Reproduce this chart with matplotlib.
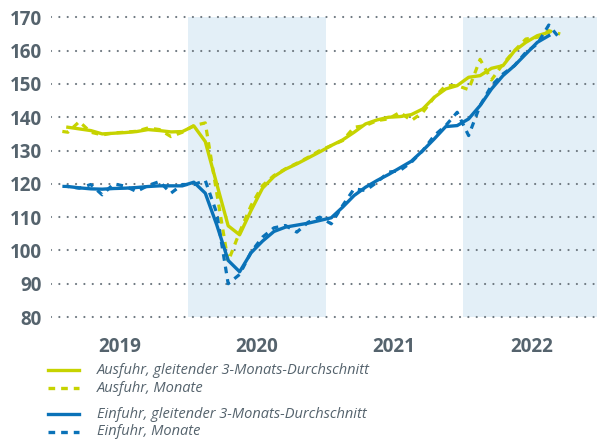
import numpy as np
import matplotlib
matplotlib.use("Agg")
import matplotlib.pyplot as plt
from matplotlib.lines import Line2D

# ---------------- data ----------------
years = ["2019", "2020", "2021", "2022"]
# monthly values Jan 2019 .. Sep 2022
ausfuhr_monate = [136.0, 135.5, 138.7, 135.5, 134.7, 135.3, 135.5, 135.8, 136.8, 136.3, 134.2, 135.5,
                  137.5, 138.3, 117.3, 96.7, 105.5, 113.5, 119.5, 122.5, 124.5, 126.2, 128.0, 130.0,
                  131.5, 133.0, 137.0, 137.5, 139.0, 139.5, 141.5, 139.0, 141.5, 146.0, 149.5, 149.5,
                  148.3, 157.4, 151.2, 156.0, 160.0, 163.5, 164.0, 166.0, 165.0]
einfuhr_monate = [119.3, 119.2, 118.7, 119.8, 116.7, 120.0, 119.3, 117.7, 119.5, 120.7, 117.2, 119.8,
                  119.8, 121.0, 111.2, 90.0, 92.8, 99.5, 104.0, 106.8, 107.5, 105.5, 108.5, 110.0,
                  108.0, 113.5, 118.5, 118.0, 120.5, 123.5, 124.0, 126.5, 130.0, 134.5, 137.5, 141.5,
                  134.5, 143.5, 149.5, 153.0, 155.5, 159.5, 162.0, 167.7, 163.5]
# centred 3-month averages Feb 2019 .. Aug 2022
ausfuhr_3m = [137.0, 136.5, 136.0, 135.0, 135.2, 135.4, 135.7, 136.3, 136.0, 135.6, 135.7,
              137.4, 132.7, 120.0, 107.4, 104.7, 112.0, 118.7, 122.2, 124.4, 126.0, 127.8, 129.6,
              131.5, 133.2, 135.5, 138.0, 139.2, 140.0, 140.2, 140.8, 142.5, 146.0, 148.5, 149.5,
              152.0, 152.5, 154.7, 155.5, 159.9, 162.5, 164.5, 165.5]
einfuhr_3m = [119.2, 118.8, 118.5, 118.4, 118.6, 118.7, 118.9, 119.2, 119.4, 119.4, 119.4,
              120.5, 117.2, 107.7, 97.0, 93.6, 99.3, 102.8, 105.7, 107.0, 107.6, 108.2, 109.0,
              109.8, 113.0, 116.5, 119.0, 121.0, 122.8, 124.8, 126.8, 130.0, 133.5, 137.2, 137.5,
              139.5, 143.5, 148.5, 152.5, 155.5, 159.0, 162.5, 164.5]
y_ticks = [80, 90, 100, 110, 120, 130, 140, 150, 160, 170]
legend_labels = ["Ausfuhr, gleitender 3-Monats-Durchschnitt", "Ausfuhr, Monate",
                 "Einfuhr, gleitender 3-Monats-Durchschnitt", "Einfuhr, Monate"]

# ---------------- style ----------------
plt.rcParams['font.family'] = ['Open Sans', 'DejaVu Sans']
plt.rcParams['lines.scale_dashes'] = False
YEL = '#c6d300'
BLU = '#0a72b8'
SHADE = '#e3eff7'
TXT = '#55636d'
GRID = '#6e7880'

W, H = 597, 441
fig = plt.figure(figsize=(W / 100, H / 100), dpi=100)
x0_px, x1_px = 50.7, 597
y_top_px, y_bot_px = 10.7, 323.7
ax = fig.add_axes([x0_px / W, 1 - y_bot_px / H, (x1_px - x0_px) / W, (y_bot_px - y_top_px) / H])
month_px = 11.45
ax.set_xlim(0, (x1_px - x0_px) / month_px)
ax.set_ylim(78, 172)

# shading 2020 and 2022
for yi in (1, 3):
    ax.fill_between([12 * yi, 12 * yi + 12], 80, 170, color=SHADE, lw=0, zorder=0)

# dotted grid
for v in y_ticks:
    ax.axhline(v, color=GRID, lw=1.6, linestyle=(0, (0.01, 6.0)), dash_capstyle='round', zorder=1)

t_m = np.arange(len(ausfuhr_monate)) + 0.5
t_3 = np.arange(1, len(ausfuhr_3m) + 1) + 0.5
dash_plot = (4.8, (4.8, 4.3))
dash = (0, (4.8, 4.3))
ax.plot(t_m, ausfuhr_monate, color=YEL, lw=2.3, linestyle=dash_plot, zorder=3)
ax.plot(t_3, ausfuhr_3m, color=YEL, lw=2.4, zorder=4, solid_joinstyle='round')
ax.plot(t_m, einfuhr_monate, color=BLU, lw=2.3, linestyle=dash_plot, zorder=5)
ax.plot(t_3, einfuhr_3m, color=BLU, lw=2.4, zorder=6, solid_joinstyle='round')

for s in ax.spines.values():
    s.set_visible(False)
ax.set_yticks(y_ticks)
ax.set_yticklabels([str(v) for v in y_ticks])
ax.set_xticks([6, 18, 30, 42])
ax.set_xticklabels(years)
ax.tick_params(axis='both', length=0, labelcolor=TXT)
ax.tick_params(axis='y', pad=6.5, labelsize=13.5)
ax.tick_params(axis='x', pad=9.5, labelsize=13.5)
for lab in ax.get_yticklabels() + ax.get_xticklabels():
    lab.set_fontweight('bold')

# legend (manual)
leg_y = [370, 388.3, 414, 431.7]
leg_c = [YEL, YEL, BLU, BLU]
leg_ls = ['-', dash, '-', dash]
for yy, c, ls, lab in zip(leg_y, leg_c, leg_ls, legend_labels):
    fy = 1 - yy / H
    fig.add_artist(Line2D([48.3 / W, 78.5 / W], [fy, fy], color=c, lw=2.4, linestyle=ls,
                          transform=fig.transFigure))
    fig.text(97.3 / W, fy, lab, color=TXT, fontsize=10.5, fontstyle='italic',
             va='center', ha='left')

fig.savefig('out.png', dpi=100)
